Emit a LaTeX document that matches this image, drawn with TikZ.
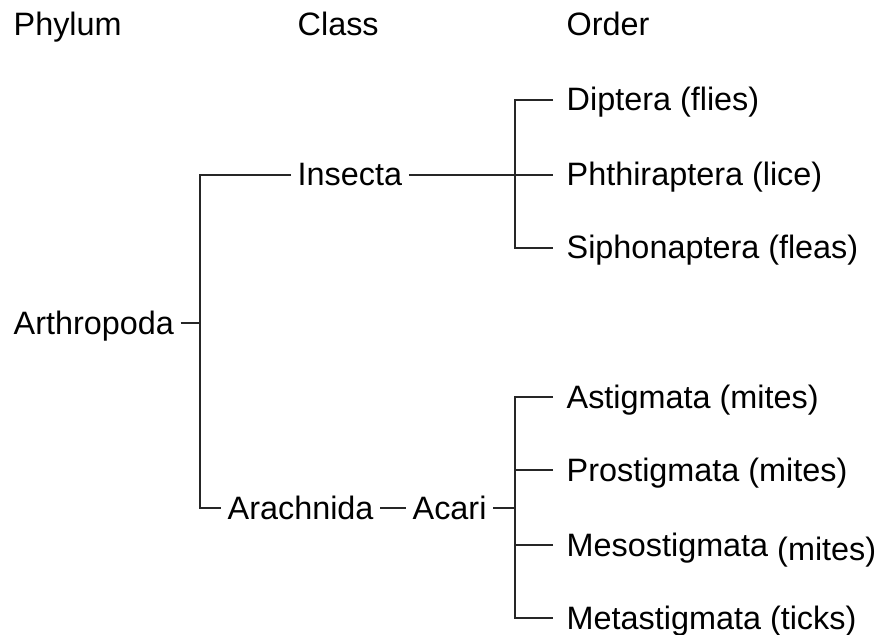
\documentclass[tikz,border=0pt]{standalone}
\usepackage{fontspec}
\setmainfont{Liberation Sans}
\begin{document}
\begin{tikzpicture}[x=1bp, y=-1bp, line width=1.4bp, draw=black!85,
    every node/.style={font=\fontsize{32.5}{39}\selectfont, anchor=west, inner ysep=0pt,
      text height=22bp, text depth=0pt},
    taxon/.style={inner xsep=6bp},
    orderbox/.style={inner xsep=13bp}]
  \useasboundingbox (0,0) rectangle (879,635);
  % headers
  \node[taxon] (phylum) at (7,25) {Phylum};
  \node[taxon] (class) at (291,25) {Class};
  \node[taxon] (order) at (560,25) {Order};
  % phylum and classes
  \node[taxon] (arthropoda) at (7,323) {Arthropoda};
  \node[taxon] (insecta) at (291,175) {Insecta};
  \node[taxon] (arachnida) at (221,508) {Arachnida};
  \node[taxon] (acari) at (406,508) {Acari};
  \coordinate (j1) at (200,323);
  \coordinate (j2) at (515,175);
  \coordinate (j3) at (515,508);
  % orders
  \foreach \name/\txt/\y in {diptera/Diptera (flies)/100, phthiraptera/Phthiraptera (lice)/175,
      siphonaptera/Siphonaptera (fleas)/248, astigmata/Astigmata (mites)/397,
      prostigmata/Prostigmata (mites)/470, mesostigmata/{Mesostigmata \raisebox{-4bp}{(mites)}}/545,
      metastigmata/Metastigmata (ticks)/618} {
    \node[orderbox] (\name) at (553,\y) {\txt};
  }
  \draw (arthropoda.east) -- (j1);
  \draw (insecta.west) -| (j1) |- (arachnida.west);
  \draw (arachnida) -- (acari);
  \draw (insecta.east) -- (phthiraptera.west);
  \draw (diptera.west) -| (j2) |- (siphonaptera.west);
  \draw (acari.east) -- (j3);
  \draw (astigmata.west) -| (j3) |- (metastigmata.west);
  \draw (prostigmata.west) -- (prostigmata.west -| j3);
  \draw (mesostigmata.west) -- (mesostigmata.west -| j3);
\end{tikzpicture}
\end{document}
